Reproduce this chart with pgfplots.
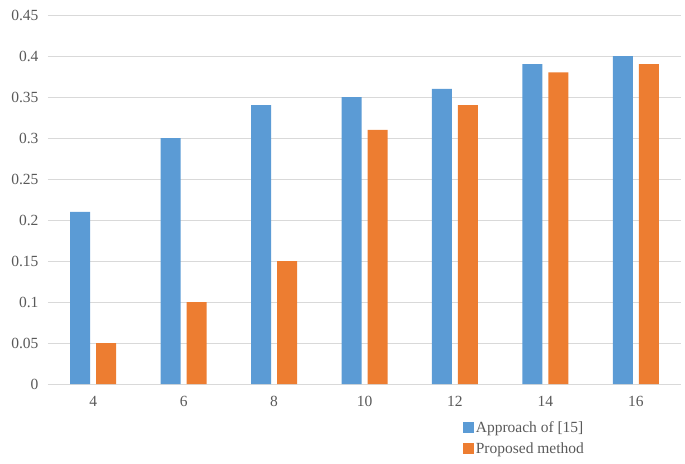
\documentclass[border=0pt]{standalone}
\usepackage{pgfplots}
\pgfplotsset{compat=1.18}
\usepackage{fontspec}
\setmainfont{Liberation Serif}
\definecolor{barblue}{HTML}{5B9BD5}
\definecolor{barorange}{HTML}{ED7D31}
\definecolor{gridgray}{HTML}{D9D9D9}
\definecolor{textgray}{HTML}{595959}

\begin{document}
\begin{tikzpicture}
  \begin{axis}[
    scale only axis,
    width=633pt,
    height=369pt,
    ybar,
    bar width=20pt,
    xmin=-0.5, xmax=6.5,
    ymin=0, ymax=0.45,
    xtick=data,
    xticklabels={4,6,8,10,12,14,16},
    ytick={0,0.05,...,0.45},
    yticklabel style={/pgf/number format/fixed,/pgf/number format/precision=2},
    /pgf/number format/assume math mode=true,
    ymajorgrids=true,
    grid style={draw=gridgray, line width=0.9pt},
    axis x line*=bottom,
    axis y line*=left,
    y axis line style={draw=none},
    x axis line style={draw=gridgray, line width=0.9pt, -},
    major tick length=0pt,
    tick label style={font=\fontsize{15.5}{18}\selectfont, text=textgray},
    xticklabel style={yshift=-9pt},
    yticklabel style={xshift=-6pt},
    legend style={
      at={(rel axis cs:0.655,-0.095)},
      anchor=north west,
      draw=none,
      fill=none,
      font=\fontsize{15.5}{17}\selectfont,
      text=textgray,
      legend cell align=left,
      row sep=5pt,
      /tikz/every even column/.append style={column sep=2pt},
      inner sep=0pt
    },
    legend image code/.code={\fill[#1] (0pt,-5.5pt) rectangle (11pt,5.5pt);},
  ]
    \addplot[draw=none, fill=barblue, bar shift=-13pt]
      coordinates {(0,0.21) (1,0.30) (2,0.34) (3,0.35) (4,0.36) (5,0.39) (6,0.40)};
    \addplot[draw=none, fill=barorange, bar shift=13pt]
      coordinates {(0,0.05) (1,0.10) (2,0.15) (3,0.31) (4,0.34) (5,0.38) (6,0.39)};
    \legend{Approach of [15],Proposed method}
  \end{axis}
  \pgfresetboundingbox
  \path (-48pt,-79pt) rectangle (637pt,384pt);
\end{tikzpicture}
\end{document}
